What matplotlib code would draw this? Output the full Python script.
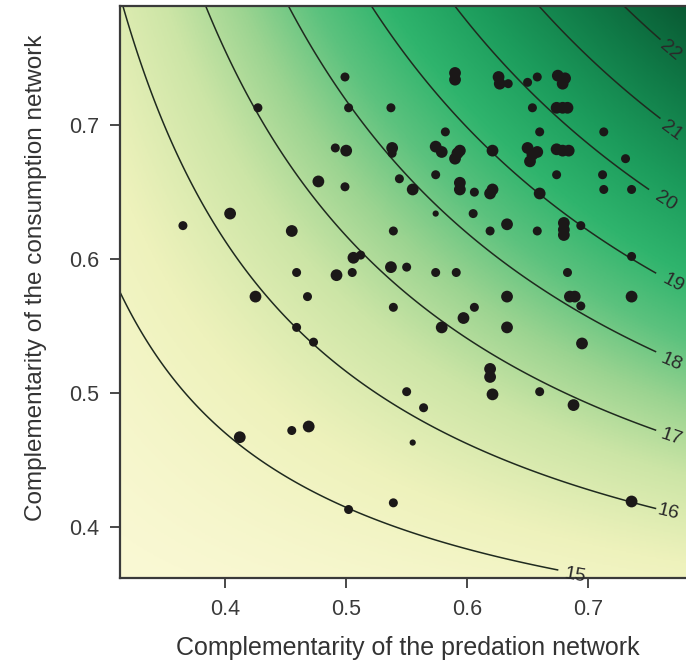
import matplotlib
matplotlib.use('Agg')
import matplotlib.pyplot as plt
import numpy as np
from matplotlib.colors import LinearSegmentedColormap

plt.rcParams['font.family'] = ['Liberation Sans', 'DejaVu Sans']

# --- scatter data: (predation, consumption) complementarity, marker size class ---
pred = [0.365, 0.404, 0.427, 0.455, 0.477, 0.491, 0.500, 0.499, 0.502, 0.499,
        0.506, 0.512, 0.505, 0.459, 0.492, 0.425, 0.468, 0.537, 0.538, 0.538,
        0.544, 0.555, 0.539, 0.537, 0.550, 0.539, 0.459, 0.473, 0.550, 0.555,
        0.412, 0.455, 0.469, 0.502, 0.539, 0.564, 0.579, 0.597, 0.606, 0.633,
        0.633, 0.619, 0.619, 0.621, 0.660, 0.685, 0.689, 0.694, 0.695, 0.688,
        0.736, 0.736, 0.590, 0.590, 0.626, 0.627, 0.634, 0.650, 0.658, 0.675,
        0.681, 0.679, 0.654, 0.674, 0.679, 0.683, 0.582, 0.660, 0.713, 0.574,
        0.579, 0.592, 0.594, 0.590, 0.621, 0.650, 0.654, 0.658, 0.652, 0.674,
        0.679, 0.684, 0.731, 0.574, 0.674, 0.712, 0.594, 0.594, 0.606, 0.619,
        0.621, 0.660, 0.713, 0.736, 0.574, 0.605, 0.633, 0.619, 0.658, 0.680,
        0.680, 0.680, 0.694, 0.736, 0.574, 0.591, 0.683]
cons = [0.625, 0.634, 0.713, 0.621, 0.658, 0.683, 0.681, 0.736, 0.713, 0.654,
        0.601, 0.603, 0.590, 0.590, 0.588, 0.572, 0.572, 0.713, 0.683, 0.679,
        0.660, 0.652, 0.621, 0.594, 0.594, 0.564, 0.549, 0.538, 0.501, 0.463,
        0.467, 0.472, 0.475, 0.413, 0.418, 0.489, 0.549, 0.556, 0.564, 0.572,
        0.549, 0.518, 0.512, 0.499, 0.501, 0.572, 0.572, 0.565, 0.537, 0.491,
        0.572, 0.419, 0.739, 0.734, 0.736, 0.731, 0.731, 0.732, 0.736, 0.737,
        0.735, 0.731, 0.713, 0.713, 0.713, 0.713, 0.695, 0.695, 0.695, 0.684,
        0.680, 0.679, 0.681, 0.675, 0.681, 0.683, 0.678, 0.680, 0.673, 0.682,
        0.681, 0.681, 0.675, 0.663, 0.663, 0.663, 0.657, 0.652, 0.650, 0.649,
        0.652, 0.649, 0.652, 0.652, 0.634, 0.634, 0.626, 0.621, 0.621, 0.627,
        0.622, 0.618, 0.625, 0.602, 0.590, 0.590, 0.590]
size_cls = ['M', 'L', 'M', 'L', 'L', 'M', 'L', 'M', 'M', 'M',
            'L', 'M', 'M', 'M', 'L', 'L', 'M', 'M', 'L', 'M',
            'M', 'L', 'M', 'L', 'M', 'M', 'M', 'M', 'M', 'S',
            'L', 'M', 'L', 'M', 'M', 'M', 'L', 'L', 'M', 'L',
            'L', 'L', 'L', 'L', 'M', 'L', 'L', 'M', 'L', 'L',
            'L', 'L', 'L', 'L', 'L', 'L', 'M', 'M', 'M', 'L',
            'L', 'L', 'M', 'L', 'L', 'L', 'M', 'M', 'M', 'L',
            'L', 'L', 'L', 'L', 'L', 'L', 'L', 'L', 'L', 'L',
            'L', 'L', 'M', 'M', 'M', 'M', 'L', 'L', 'M', 'L',
            'L', 'L', 'M', 'M', 'S', 'M', 'L', 'M', 'M', 'L',
            'L', 'L', 'M', 'M', 'M', 'M', 'M']
size_map = {'S': 20, 'M': 42, 'L': 72}

# --- contour readings (points lying on each labelled isoline) ---
iso_levels = [15, 16, 17, 18, 19, 20, 21, 22]
iso_x = [[0.313, 0.412, 0.503, 0.561, 0.674],
         [0.316, 0.377, 0.429, 0.506, 0.561, 0.627, 0.754],
         [0.384, 0.429, 0.468, 0.506, 0.580, 0.655, 0.699, 0.754],
         [0.452, 0.506, 0.559, 0.600, 0.663, 0.699, 0.754],
         [0.522, 0.545, 0.619, 0.660, 0.737, 0.757],
         [0.592, 0.636, 0.683, 0.749],
         [0.660, 0.699, 0.760],
         [0.732, 0.760]]
iso_y = [[0.567, 0.467, 0.413, 0.393, 0.368],
         [0.784, 0.669, 0.569, 0.512, 0.480, 0.455, 0.414],
         [0.788, 0.699, 0.652, 0.614, 0.549, 0.512, 0.490, 0.472],
         [0.788, 0.711, 0.654, 0.619, 0.575, 0.562, 0.532],
         [0.788, 0.758, 0.681, 0.649, 0.602, 0.590],
         [0.788, 0.736, 0.699, 0.652],
         [0.788, 0.756, 0.702],
         [0.788, 0.763]]
line_end_x = [0.676, 0.757, 0.757, 0.757, 0.757, 0.751, 0.760, 0.760]
label_xy = [(0.689, 0.3635), (0.766, 0.411), (0.769, 0.467), (0.769, 0.523),
            (0.770, 0.582), (0.764, 0.643), (0.769, 0.696), (0.768, 0.756)]

# fit a cubic surface through the isoline readings
fx = np.concatenate([np.array(v) for v in iso_x])
fy = np.concatenate([np.array(v) for v in iso_y])
fz = np.concatenate([np.full(len(v), lev, dtype=float) for v, lev in zip(iso_x, iso_levels)])

def design(x, y):
    u, v = x - 0.55, y - 0.575
    return np.stack([np.ones_like(u), u, v, u**2, v**2, u * v,
                     u**3, v**3, u**2 * v, u * v**2], axis=-1)

coef, *_ = np.linalg.lstsq(design(fx, fy), fz, rcond=None)

def surface(x, y):
    return design(x, y) @ coef

xlim = (0.313, 0.781)
ylim = (0.362, 0.789)
gx = np.linspace(xlim[0], xlim[1], 400)
gy = np.linspace(ylim[0], ylim[1], 400)
GX, GY = np.meshgrid(gx, gy)
Z = surface(GX, GY)

cmap = LinearSegmentedColormap.from_list('yg', [
    (0.00, '#fbf9d6'), (0.15, '#eef2bc'), (0.28, '#cce5a6'),
    (0.38, '#9cd491'), (0.48, '#5cc27e'), (0.58, '#2fb46d'),
    (0.70, '#1c9c5c'), (0.84, '#107a47'), (1.00, '#08532f')])

fig = plt.figure(figsize=(6.86, 6.68), dpi=100)
ax = fig.add_axes([0.175, 0.135, 0.825, 0.856])
ax.imshow(Z, origin='lower', extent=[xlim[0], xlim[1], ylim[0], ylim[1]],
          aspect='auto', cmap=cmap, vmin=14.0, vmax=23.0,
          interpolation='bilinear', zorder=0)

for lev, xend in zip(iso_levels, line_end_x):
    Zm = np.where(GX <= xend, Z, np.nan)
    ax.contour(GX, GY, Zm, levels=[lev], colors='#1f2a1f', linewidths=1.1, zorder=2)

# contour labels, rotated along the isoline
eps = 1e-4
for lev, (lx, ly) in zip(iso_levels, label_xy):
    gxv = (surface(lx + eps, ly) - surface(lx - eps, ly)) / (2 * eps)
    gyv = (surface(lx, ly + eps) - surface(lx, ly - eps)) / (2 * eps)
    tx, ty = gyv, -gxv
    if tx < 0:
        tx, ty = -tx, -ty
    ang_data = np.degrees(np.arctan2(ty, tx))
    ang = ax.transData.transform_angles(np.array([ang_data]), np.array([[lx, ly]]))[0]
    ax.text(lx, ly, str(lev), rotation=ang, rotation_mode='anchor',
            ha='center', va='center', fontsize=14, color='#2a2a2a',
            clip_on=False, zorder=4)

sizes = [size_map[c] for c in size_cls]
ax.scatter(pred, cons, s=sizes, c='#1b1818', edgecolors='none', zorder=3)

ax.set_xlim(*xlim)
ax.set_ylim(*ylim)
ax.set_xticks([0.4, 0.5, 0.6, 0.7])
ax.set_yticks([0.4, 0.5, 0.6, 0.7])
ax.set_xticklabels(['0.4', '0.5', '0.6', '0.7'])
ax.set_yticklabels(['0.4', '0.5', '0.6', '0.7'])
ax.tick_params(direction='out', length=7, width=1.3, colors='#3a3a3a',
               labelsize=15.5, pad=8, labelcolor='#3a3a3a')
for side in ['left', 'bottom', 'top']:
    ax.spines[side].set_color('#3a3a3a')
    ax.spines[side].set_linewidth(1.6)
ax.spines['right'].set_visible(False)

ax.set_xlabel('Complementarity of the predation network', fontsize=18,
              color='#333333')
ax.set_ylabel('Complementarity of the consumption network', fontsize=17.5,
              color='#333333')
ax.xaxis.set_label_coords(0.509, -0.102)
ax.yaxis.set_label_coords(-0.129, 0.524)

fig.savefig('out.png', dpi=100)
plt.close(fig)
